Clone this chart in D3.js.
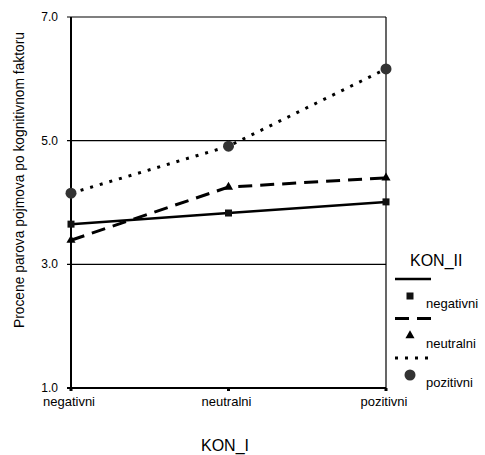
<!DOCTYPE html>
<html>
<head>
<meta charset="utf-8">
<script src="https://cdn.jsdelivr.net/npm/d3@7"></script>
<style>
  body { margin: 0; background: #fff; }
  text { font-family: "Liberation Sans", Arial, sans-serif; fill: #000; }
</style>
</head>
<body>
<div id="chart"></div>
<script>
// categories on the x axis (KON_I)
const categories = ["negativni", "neutralni", "pozitivni"];
// y ticks
const yTicks = [1, 3, 5, 7];
// series (KON_II)
const seriesNames = ["negativni", "neutralni", "pozitivni"];
const negativniValues = [3.65, 3.83, 4.01];
const neutralniValues = [3.39, 4.25, 4.40];
const pozitivniValues = [4.15, 4.91, 6.16];

const width = 485, height = 455;
const margin = { top: 17, right: 99, bottom: 67, left: 71 };

const svg = d3.select("#chart").append("svg")
  .attr("width", width)
  .attr("height", height);

const x = d3.scalePoint()
  .domain(categories)
  .range([margin.left, width - margin.right]);

const y = d3.scaleLinear()
  .domain([1, 7])
  .range([height - margin.bottom, margin.top]);

// gridlines + left tick marks
svg.append("g")
  .selectAll("line")
  .data(yTicks.filter(d => d > 1))
  .join("line")
  .attr("x1", margin.left - 4)
  .attr("x2", width - margin.right)
  .attr("y1", d => y(d))
  .attr("y2", d => y(d))
  .attr("stroke", "#000")
  .attr("stroke-width", 1.2);

// right border
svg.append("line")
  .attr("x1", width - margin.right).attr("x2", width - margin.right)
  .attr("y1", y(7)).attr("y2", y(1))
  .attr("stroke", "#000").attr("stroke-width", 1.2);

// left axis + bottom axis
svg.append("line")
  .attr("x1", margin.left).attr("x2", margin.left)
  .attr("y1", y(7)).attr("y2", y(1))
  .attr("stroke", "#000").attr("stroke-width", 2);
svg.append("line")
  .attr("x1", margin.left - 4).attr("x2", width - margin.right)
  .attr("y1", y(1)).attr("y2", y(1))
  .attr("stroke", "#000").attr("stroke-width", 2);

// y tick labels
svg.append("g")
  .selectAll("text")
  .data(yTicks)
  .join("text")
  .attr("x", margin.left - 13)
  .attr("y", d => y(d) + 4)
  .attr("text-anchor", "end")
  .style("font-size", "12px")
  .text(d => d.toFixed(1));

// x tick dots + labels
svg.append("g")
  .selectAll("rect")
  .data(categories)
  .join("rect")
  .attr("x", d => x(d) - 1.5)
  .attr("y", y(1))
  .attr("width", 3)
  .attr("height", 3)
  .attr("fill", "#000");

svg.append("g")
  .selectAll("text")
  .data(categories)
  .join("text")
  .attr("x", d => x(d) - 2)
  .attr("y", y(1) + 18)
  .attr("text-anchor", "middle")
  .style("font-size", "13px")
  .text(d => d);

// axis titles
svg.append("text")
  .attr("x", 225)
  .attr("y", 451)
  .attr("text-anchor", "middle")
  .style("font-size", "16px")
  .text("KON_I");

svg.append("text")
  .attr("transform", `translate(24, 180) rotate(-90)`)
  .attr("text-anchor", "middle")
  .style("font-size", "13.8px")
  .text("Procene parova pojmova po kognitivnom faktoru");

// series styling
const styles = [
  { values: negativniValues, dash: null, width: 2.5, marker: "square" },
  { values: neutralniValues, dash: "14,8", width: 3, marker: "triangle" },
  { values: pozitivniValues, dash: "3,7", width: 3, marker: "circle" }
];

const line = d3.line()
  .x((d, i) => x(categories[i]))
  .y(d => y(d));

function drawMarker(g, type, cx, cy) {
  if (type === "square") {
    g.append("rect")
      .attr("x", cx - 3.5).attr("y", cy - 3.5)
      .attr("width", 7).attr("height", 7)
      .attr("fill", "#111");
  } else if (type === "triangle") {
    g.append("path")
      .attr("d", d3.symbol(d3.symbolTriangle, 36)())
      .attr("transform", `translate(${cx},${cy})`)
      .attr("fill", "#000");
  } else {
    g.append("circle")
      .attr("cx", cx).attr("cy", cy).attr("r", 5.5)
      .attr("fill", "#333");
  }
}

const plot = svg.append("g");
styles.forEach(s => {
  plot.append("path")
    .datum(s.values)
    .attr("d", line)
    .attr("fill", "none")
    .attr("stroke", "#000")
    .attr("stroke-width", s.width)
    .attr("stroke-dasharray", s.dash);
  s.values.forEach((v, i) => drawMarker(plot, s.marker, x(categories[i]), y(v)));
});

// legend
const legend = svg.append("g");
legend.append("text")
  .attr("x", 410)
  .attr("y", 266)
  .style("font-size", "16px")
  .text("KON_II");

seriesNames.forEach((name, i) => {
  const s = styles[i];
  const top = 279 + i * 39.5;
  legend.append("line")
    .attr("x1", 395).attr("x2", 431)
    .attr("y1", top).attr("y2", top)
    .attr("stroke", "#000")
    .attr("stroke-width", s.width)
    .attr("stroke-dasharray", s.dash);
  drawMarker(legend, s.marker, 410, top + 17);
  legend.append("text")
    .attr("x", 426)
    .attr("y", top + 29)
    .style("font-size", "13px")
    .text(name);
});
</script>
</body>
</html>
